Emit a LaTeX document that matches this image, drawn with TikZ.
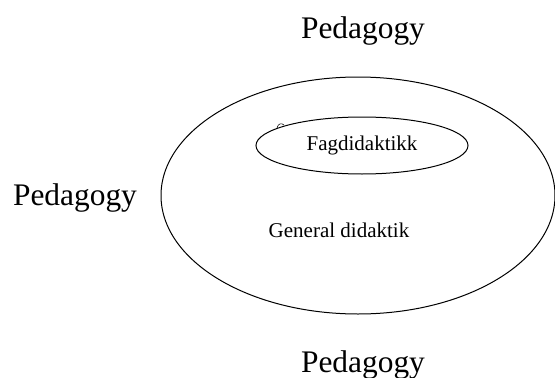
\documentclass[tikz,border=0pt]{standalone}
\usepackage{fontspec}
\setmainfont{Liberation Serif}
\usetikzlibrary{positioning,shapes.geometric}

\tikzset{
  bigtext/.style={anchor=base, font=\fontsize{31.4}{36}\selectfont},
  smalltext/.style={anchor=base, font=\fontsize{21}{25}\selectfont},
  ring/.style={draw, ellipse, line width=1pt, inner sep=0pt}
}

\begin{document}
\begin{tikzpicture}[x=1pt,y=-1pt]
\useasboundingbox (0,0) rectangle (555,378);

% Outer and inner ellipses
\node[ring, minimum width=394pt, minimum height=237pt] (general) at (358,195.5) {};
\node[ring, minimum width=212pt, minimum height=57pt,
      font=\fontsize{21}{25}\selectfont] (fag) at (362,145.5) {\raisebox{-1pt}{Fagdidaktikk}};
\draw[line width=0.6pt] (277,128) .. controls (278,123) and (282,123) .. (284,125);

% Labels
\node[smalltext] (gentext) at (339,237) {General didaktik};
\node[bigtext] (pedtop) at (363,38) {Pedagogy};
\node[bigtext] (pedleft) at (75,205) {Pedagogy};
\node[bigtext] (pedbottom) at (363,372) {Pedagogy};
\end{tikzpicture}
\end{document}
